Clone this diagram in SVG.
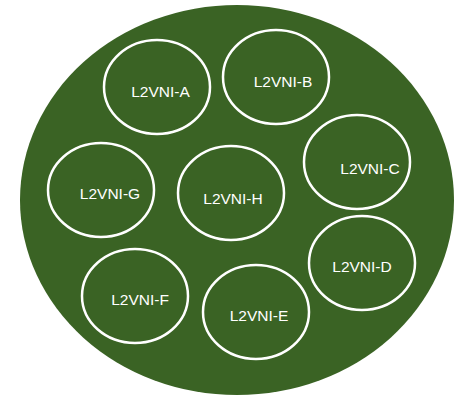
<svg xmlns="http://www.w3.org/2000/svg" width="458" height="397" viewBox="0 0 458 397">
<style>
.outer{fill:#3a6324;}
.vni{fill:#3a6324;stroke:#ffffff;stroke-width:2.5;}
.lbl{fill:#ffffff;font-family:"Liberation Sans",Arial,sans-serif;font-size:15.5px;text-anchor:middle;}
</style>
<rect width="458" height="397" fill="#ffffff"/>
<g id="domain"><ellipse class="outer" cx="237" cy="200" rx="217" ry="195"/></g>
<g id="vni-a"><ellipse class="vni" cx="157" cy="87" rx="53" ry="47"/><text class="lbl" x="160.5" y="96.5">L2VNI-A</text></g>
<g id="vni-b"><ellipse class="vni" cx="276" cy="77" rx="53" ry="47"/><text class="lbl" x="283" y="87">L2VNI-B</text></g>
<g id="vni-c"><ellipse class="vni" cx="357" cy="162" rx="53" ry="47"/><text class="lbl" x="370" y="174">L2VNI-C</text></g>
<g id="vni-g"><ellipse class="vni" cx="101" cy="190" rx="53" ry="47"/><text class="lbl" x="110" y="199">L2VNI-G</text></g>
<g id="vni-h"><ellipse class="vni" cx="231" cy="193" rx="53" ry="47"/><text class="lbl" x="233" y="203.5">L2VNI-H</text></g>
<g id="vni-d"><ellipse class="vni" cx="362" cy="263" rx="53" ry="47"/><text class="lbl" x="362" y="272">L2VNI-D</text></g>
<g id="vni-f"><ellipse class="vni" cx="135" cy="296" rx="53" ry="47"/><text class="lbl" x="140" y="305">L2VNI-F</text></g>
<g id="vni-e"><ellipse class="vni" cx="256" cy="312" rx="53" ry="47"/><text class="lbl" x="259" y="321">L2VNI-E</text></g>
<g id="connectors"/>
</svg>
